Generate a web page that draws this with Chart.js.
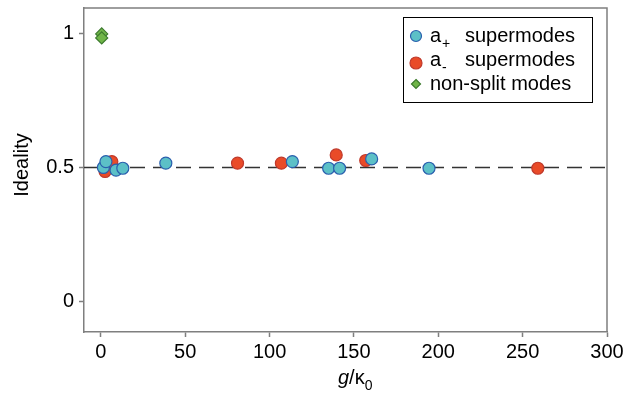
<!DOCTYPE html>
<html>
<head>
<meta charset="utf-8">
<script src="https://cdn.jsdelivr.net/npm/chart.js@4.4.0/dist/chart.umd.min.js"></script>
<style>
  html, body { margin: 0; padding: 0; background: #fff; }
  #wrap { width: 625px; height: 396px; }
</style>
</head>
<body>
<div id="wrap"><canvas id="chart" width="625" height="396"></canvas></div>
<script>
const FONT = "'Liberation Sans', Arial, Helvetica, sans-serif";

// a+ supermodes
const plusX = [1.5, 3, 9, 13, 38.5, 113.5, 135, 141.5, 160.5, 194.5];
const plusY = [0.50, 0.522, 0.49, 0.497, 0.516, 0.522, 0.497, 0.497, 0.532, 0.497];
// a- supermodes
const minusX = [2.5, 6.5, 81, 107, 139.5, 157, 259];
const minusY = [0.485, 0.522, 0.516, 0.516, 0.547, 0.526, 0.497];
// non-split modes
const singleX = [0.5, 0.5];
const singleY = [1.0, 0.985];
// ideal value reference line
const refX = [-10, 300];
const refY = [0.5, 0.5];

const xTicks = [0, 50, 100, 150, 200, 250, 300];
const yTicks = [0, 0.5, 1];

const toPoints = (xs, ys) => xs.map((x, i) => ({ x: x, y: ys[i] }));

const axisGray = "#7f7f7f";

// frame, axis titles and legend drawn by hand (subscripts)
const decorations = {
  id: "decorations",
  afterDraw(chart) {
    const ctx = chart.ctx;
    const a = chart.chartArea;
    ctx.save();
    ctx.strokeStyle = axisGray;
    ctx.lineWidth = 1.5;
    ctx.beginPath();
    ctx.moveTo(a.left, a.top);
    ctx.lineTo(a.right, a.top);
    ctx.lineTo(a.right, a.bottom);
    ctx.stroke();

    ctx.fillStyle = "#000";
    // y title
    ctx.save();
    ctx.translate(22, 165);
    ctx.rotate(-Math.PI / 2);
    ctx.textAlign = "center";
    ctx.textBaseline = "middle";
    ctx.font = "20px " + FONT;
    ctx.fillText("Ideality", 0, 0);
    ctx.restore();

    // x title g/κ0
    ctx.textBaseline = "alphabetic";
    ctx.textAlign = "left";
    let x = 338, y = 384;
    ctx.font = "italic 20px " + FONT;
    ctx.fillText("g", x, y);
    x += ctx.measureText("g").width;
    ctx.font = "20px " + FONT;
    ctx.fillText("/\u03ba", x, y);
    x += ctx.measureText("/\u03ba").width;
    ctx.font = "14px " + FONT;
    ctx.fillText("0", x, y + 6);

    // legend
    const lx = 403, ly = 17, lw = 189, lh = 85;
    ctx.fillStyle = "#fff";
    ctx.fillRect(lx, ly, lw, lh);
    ctx.strokeStyle = "#000";
    ctx.lineWidth = 1;
    ctx.strokeRect(lx + 0.5, ly + 0.5, lw, lh);

    const rows = [
      { sub: "+", text: "supermodes", fill: "#5cc0c7", line: "#2a5fae", shape: "circle", r: 5.5 },
      { sub: "-", text: "supermodes", fill: "#e94b28", line: "#c0392b", shape: "circle", r: 6 },
      { sub: null, text: "non-split modes", fill: "#70b548", line: "#3c7a2d", shape: "diamond", r: 4.5 }
    ];
    rows.forEach((row, i) => {
      const cy = ly + 19 + i * 24;
      const mx = lx + 13;
      ctx.fillStyle = row.fill;
      ctx.strokeStyle = row.line;
      ctx.lineWidth = 1.2;
      ctx.beginPath();
      if (row.shape === "circle") {
        ctx.arc(mx, cy + (i === 1 ? 3 : 0), row.r, 0, Math.PI * 2);
      } else {
        ctx.moveTo(mx, cy - row.r);
        ctx.lineTo(mx + row.r, cy);
        ctx.lineTo(mx, cy + row.r);
        ctx.lineTo(mx - row.r, cy);
        ctx.closePath();
      }
      ctx.fill();
      ctx.stroke();

      ctx.fillStyle = "#000";
      const by = cy + 6;
      ctx.font = "20px " + FONT;
      if (row.sub) {
        ctx.fillText("a", lx + 27, by);
        ctx.font = "14px " + FONT;
        ctx.fillText(row.sub, lx + 39, by + 6);
        ctx.font = "20px " + FONT;
        ctx.fillText(row.text, lx + 62, by);
      } else {
        ctx.fillText(row.text, lx + 27, by);
      }
    });
    ctx.restore();
  }
};

new Chart(document.getElementById("chart"), {
  type: "scatter",
  data: {
    datasets: [
      {
        label: "a+ supermodes",
        data: toPoints(plusX, plusY),
        backgroundColor: "#5cc0c7",
        borderColor: "#2a5fae",
        borderWidth: 1.2,
        pointRadius: 6,
      },
      {
        label: "a- supermodes",
        data: toPoints(minusX, minusY),
        backgroundColor: "#e94b28",
        borderColor: "#c0392b",
        borderWidth: 1.2,
        pointRadius: 6,
      },
      {
        label: "non-split modes",
        data: toPoints(singleX, singleY),
        backgroundColor: "#70b548",
        borderColor: "#3c7a2d",
        borderWidth: 1.2,
        pointStyle: "rectRot",
        pointRadius: 6,
      },
      {
        label: "ideal",
        type: "line",
        data: toPoints(refX, refY),
        borderColor: "#333",
        borderWidth: 1.5,
        borderDash: [15, 8],
        pointRadius: 0,
        fill: false,
      },
    ],
  },
  options: {
    responsive: false,
    animation: false,
    layout: { padding: { top: 8, right: 18, left: 0, bottom: 0 } },
    plugins: {
      legend: { display: false },
      tooltip: { enabled: false },
    },
    scales: {
      x: {
        type: "linear",
        min: -10,
        max: 300,
        afterBuildTicks: (scale) => { scale.ticks = xTicks.map((v) => ({ value: v })); },
        afterFit: (scale) => {
          scale.height = 64;
          scale.paddingLeft = 0;
          scale.paddingRight = 0;
        },
        grid: { drawOnChartArea: false, drawTicks: true, tickLength: 5, tickColor: axisGray, tickWidth: 1.5 },
        border: { display: true, color: axisGray, width: 1.5 },
        ticks: { color: "#000", font: { family: FONT, size: 20 }, padding: 3, maxRotation: 0 },
      },
      y: {
        type: "linear",
        min: -0.116,
        max: 1.097,
        afterBuildTicks: (scale) => { scale.ticks = yTicks.map((v) => ({ value: v })); },
        afterFit: (scale) => {
          scale.width = 84;
          scale.paddingTop = 0;
          scale.paddingBottom = 0;
        },
        grid: { drawOnChartArea: false, drawTicks: true, tickLength: 5, tickColor: axisGray, tickWidth: 1.5 },
        border: { display: true, color: axisGray, width: 1.5 },
        ticks: {
          color: "#000",
          font: { family: FONT, size: 20 },
          padding: 5,
          callback: (v) => String(v),
        },
      },
    },
  },
  plugins: [decorations],
});
</script>
</body>
</html>
